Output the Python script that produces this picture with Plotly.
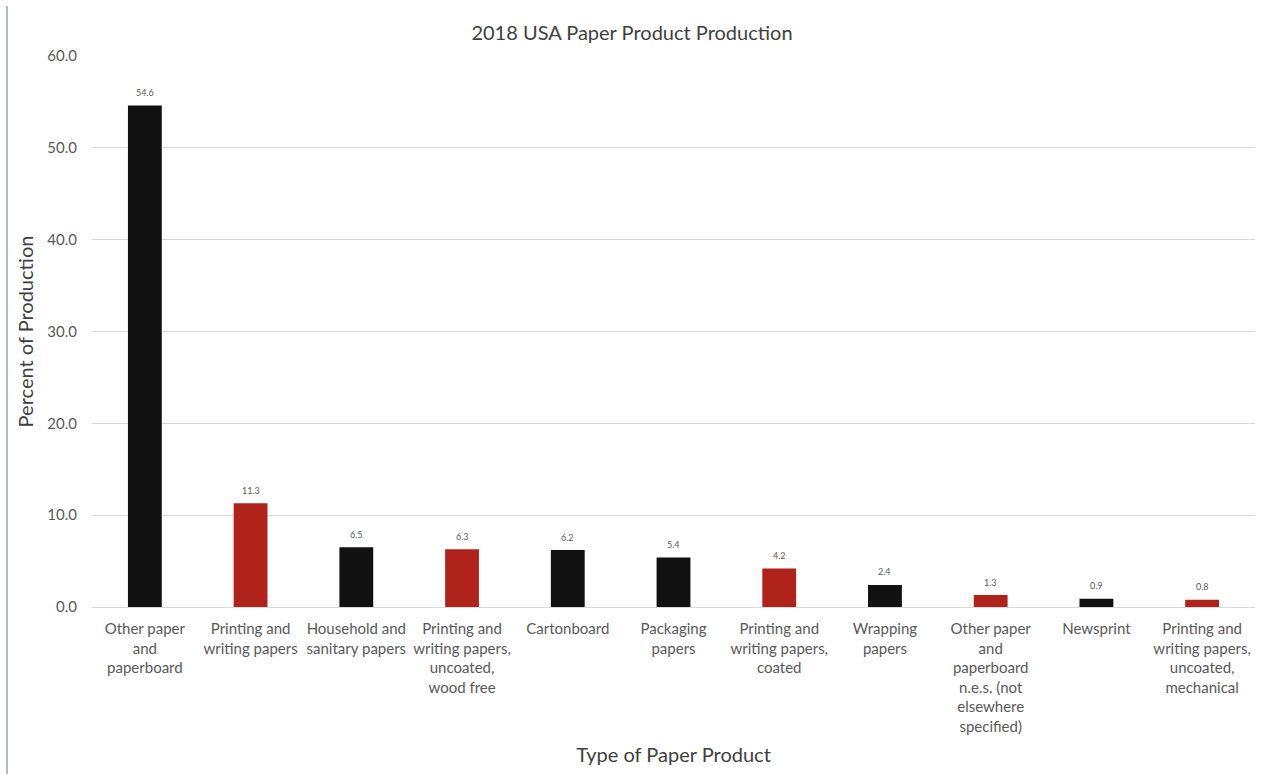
import plotly.graph_objects as go

categories = [
    "Other paper<br>and<br>paperboard",
    "Printing and<br>writing papers",
    "Household and<br>sanitary papers",
    "Printing and<br>writing papers,<br>uncoated,<br>wood free",
    "Cartonboard",
    "Packaging<br>papers",
    "Printing and<br>writing papers,<br>coated",
    "Wrapping<br>papers",
    "Other paper<br>and<br>paperboard<br>n.e.s. (not<br>elsewhere<br>specified)",
    "Newsprint",
    "Printing and<br>writing papers,<br>uncoated,<br>mechanical",
]
values = [54.6, 11.3, 6.5, 6.3, 6.2, 5.4, 4.2, 2.4, 1.3, 0.9, 0.8]
is_printing = [False, True, False, True, False, False, True, False, True, False, True]

BLACK = "#111111"
RED = "#B0231A"
colors = [RED if p else BLACK for p in is_printing]

font_family = "Lato, 'Open Sans', sans-serif"
grey = "#595959"
dark = "#404040"

fig = go.Figure(
    go.Bar(
        x=categories,
        y=values,
        marker=dict(color=colors, line=dict(width=0)),
        width=0.32,
        cliponaxis=False,
    )
)

for c, v in zip(categories, values):
    fig.add_annotation(
        x=c, y=v, text=f"{v:.1f}", showarrow=False,
        yanchor="middle", yshift=13,
        font=dict(size=9, color=grey, family=font_family),
    )

fig.update_layout(
    width=1264,
    height=774,
    margin=dict(l=92, r=9, t=56, b=167),
    paper_bgcolor="white",
    plot_bgcolor="white",
    showlegend=False,
    font=dict(family=font_family, color=grey),
    title=dict(
        text="2018 USA Paper Product Production",
        x=0.5,
        xanchor="center",
        y=1 - 33 / 774,
        yanchor="middle",
        font=dict(size=20, color=dark, family=font_family),
    ),
    xaxis=dict(
        showgrid=False,
        showline=True,
        linecolor="#d9d9d9",
        linewidth=1,
        tickfont=dict(size=15, color=grey, family=font_family),
        ticks="",
        ticklabelstandoff=8,
        title=dict(text="Type of Paper Product", font=dict(size=20, color=dark, family=font_family), standoff=14),
    ),
    yaxis=dict(
        range=[0, 60],
        dtick=10,
        tickformat=".1f",
        showgrid=True,
        gridcolor="#d9d9d9",
        gridwidth=1,
        zeroline=False,
        showline=False,
        tickfont=dict(size=15, color=grey, family=font_family),
        ticklabelstandoff=14,
        title=dict(text="Percent of Production", font=dict(size=20, color=dark, family=font_family), standoff=8),
    ),
    bargap=0.68,
)

fig.add_shape(
    type="line", xref="paper", yref="paper",
    x0=-85 / 1163, x1=-85 / 1163, y0=-167 / 551, y1=1 + 50 / 551,
    line=dict(color="#5f7f80", width=1),
)

fig.write_html("out.html")
